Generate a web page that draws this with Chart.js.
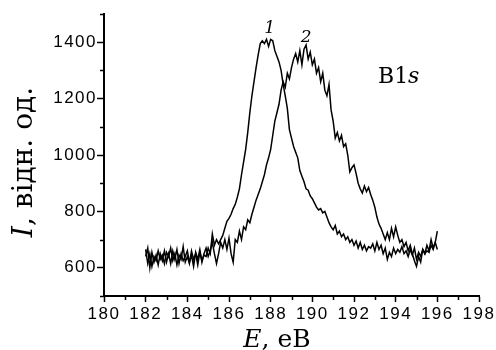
<!DOCTYPE html>
<html>
<head>
<meta charset="utf-8">
<script src="https://cdn.jsdelivr.net/npm/chart.js@4/dist/chart.umd.min.js"></script>
<style>
  html,body{margin:0;padding:0;background:#fff;}
  #wrap{width:496px;height:350px;position:relative;}
</style>
</head>
<body>
<div id="wrap"><canvas id="c" width="496" height="350"></canvas></div>
<script>
// Energy grid (eV): 182.0 ... 196.0, step 0.1
const energyStart = 182.0;
const energyStep = 0.1;
// Curve 1 intensity (arb. units)
const curve1 = [
 665,615,650,605,640,625,660,630,645,615,
 655,640,670,625,650,610,645,630,675,620,
 640,615,660,630,650,610,655,625,645,640,
 670,650,720,680,700,685,700,715,740,765,
 775,790,810,825,850,880,930,975,1020,1080,
 1150,1210,1260,1310,1355,1395,1405,1395,1410,1385,
 1410,1405,1370,1350,1330,1300,1250,1210,1165,1090,
 1060,1030,1010,990,945,925,905,880,875,855,
 845,830,815,805,810,795,800,780,760,745,
 735,750,720,730,710,720,700,710,690,700,
 680,695,670,690,665,680,660,675,670,685,
 660,690,665,680,650,670,630,655,640,670,
 650,665,655,675,650,660,640,665,645,670,
 630,655,640,665,650,660,655,680,665,690,
 730
];
// Curve 2 intensity (arb. units)
const curve2 = [
 640,670,600,655,620,645,610,650,625,660,
 620,650,615,660,630,665,615,650,625,640,
 660,620,645,605,655,630,665,620,650,670,
 640,660,690,650,615,650,690,670,700,665,
 705,650,620,700,690,730,700,745,735,770,
 760,790,815,840,860,880,905,930,965,990,
 1020,1070,1120,1150,1180,1230,1260,1240,1290,1270,
 1310,1340,1360,1330,1370,1320,1375,1390,1340,1365,
 1320,1340,1290,1310,1260,1290,1230,1210,1250,1160,
 1120,1060,1080,1050,1070,1030,1040,1000,940,955,
 965,935,900,880,865,890,870,885,860,840,
 815,780,755,740,720,700,725,700,740,710,
 745,715,690,700,675,690,660,680,650,625,
 605,640,620,665,650,680,660,700,670,690,
 665
];
const xTickLabels = [180,182,184,186,188,190,192,194,196,198];
const yTickLabels = [600,800,1000,1200,1400];
const xMinorTicks = [181,183,185,187,189,191,193,195,197];
const yMinorTicks = [500,700,900,1100,1300,1500];
const curveNames = ['1','2'];

const energies = curve1.map((_, i) => +(energyStart + i * energyStep).toFixed(1));
const toPts = arr => arr.map((v, i) => ({x: energies[i], y: v}));

const tickFont = {family: '"Liberation Sans", Arial, sans-serif', size: 17};

const annot = {
  id: 'annot',
  beforeDraw(chart) { chart.ctx.letterSpacing = '1.5px'; },
  afterDraw(chart) {
    const ctx = chart.ctx;
    const xs = chart.scales.x, ys = chart.scales.y;
    const ca = chart.chartArea;
    ctx.save();
    ctx.letterSpacing = '0px';
    // minor ticks
    ctx.strokeStyle = '#000'; ctx.lineWidth = 1.5;
    ctx.beginPath();
    xMinorTicks.forEach(v => { const px = Math.round(xs.getPixelForValue(v)) + 0.5; ctx.moveTo(px, ca.bottom); ctx.lineTo(px, ca.bottom + 4); });
    yMinorTicks.forEach(v => { const py = Math.round(ys.getPixelForValue(v)) + 0.5; ctx.moveTo(ca.left, py); ctx.lineTo(ca.left - 4, py); });
    ctx.stroke();
    ctx.fillStyle = '#000';
    // curve labels
    ctx.font = 'italic 17px "DejaVu Serif", serif';
    ctx.textAlign = 'center'; ctx.textBaseline = 'middle';
    ctx.fillText(curveNames[0], xs.getPixelForValue(187.95), ys.getPixelForValue(1447));
    ctx.fillText(curveNames[1], xs.getPixelForValue(189.7), ys.getPixelForValue(1417));
    // B1s
    const bx = xs.getPixelForValue(193.15), by = ys.getPixelForValue(1275);
    ctx.textAlign = 'left';
    ctx.font = '22px "DejaVu Serif", serif';
    ctx.fillText('B1', bx, by);
    let w = ctx.measureText('B1').width;
    ctx.font = 'italic 22px "DejaVu Serif", serif';
    ctx.fillText('s', bx + w, by);
    // x title: E, eB
    ctx.textBaseline = 'alphabetic';
    const parts = [['italic 25px "DejaVu Serif", serif','E'],['25px "DejaVu Serif", serif',', eB']];
    let total = 0;
    parts.forEach(p => { ctx.font = p[0]; total += ctx.measureText(p[1]).width; });
    let x0 = 277 - total/2;
    parts.forEach(p => { ctx.font = p[0]; ctx.fillText(p[1], x0, 347); x0 += ctx.measureText(p[1]).width; });
    // y title: I, відн. од.
    ctx.translate(32, 162);
    ctx.rotate(-Math.PI/2);
    const yp = [['italic 28px "DejaVu Serif", serif','I'],['28px "DejaVu Serif", serif',', відн. од.']];
    total = 0;
    yp.forEach(p => { ctx.font = p[0]; total += ctx.measureText(p[1]).width; });
    x0 = -total/2;
    yp.forEach(p => { ctx.font = p[0]; ctx.fillText(p[1], x0, 0); x0 += ctx.measureText(p[1]).width; });
    ctx.restore();
  }
};

new Chart(document.getElementById('c'), {
  type: 'line',
  data: {
    datasets: [
      {label: curveNames[0], data: toPts(curve1), borderColor: '#000', borderWidth: 1.5, pointRadius: 0, tension: 0, fill: false},
      {label: curveNames[1], data: toPts(curve2), borderColor: '#000', borderWidth: 1.5, pointRadius: 0, tension: 0, fill: false}
    ]
  },
  options: {
    responsive: false,
    animation: false,
    devicePixelRatio: 1,
    layout: {padding: {left: 0, right: 17, top: 14, bottom: 0}},
    plugins: {legend: {display: false}, tooltip: {enabled: false}},
    scales: {
      x: {
        type: 'linear', min: 180, max: 198,
        afterFit: s => { s.height = 54; },
        grid: {drawOnChartArea: false, drawTicks: true, tickLength: 6, tickColor: '#000', tickWidth: 1.5},
        border: {display: true, color: '#000', width: 2},
        ticks: {
          stepSize: 2, autoSkip: false, maxRotation: 0, color: '#000', font: tickFont, padding: 2,
          callback: v => xTickLabels.includes(v) ? String(v) : ''
        }
      },
      y: {
        min: 500, max: 1500,
        afterFit: s => { s.width = 104; },
        grid: {drawOnChartArea: false, drawTicks: true, tickLength: 7, tickColor: '#000', tickWidth: 1.5},
        border: {display: true, color: '#000', width: 2},
        ticks: {
          stepSize: 200, autoSkip: false, color: '#000', font: tickFont, padding: 0,
          callback: v => yTickLabels.includes(v) ? String(v) : ''
        },
        afterBuildTicks: s => { s.ticks = yTickLabels.map(v => ({value: v})); }
      }
    }
  },
  plugins: [annot]
});
</script>
</body>
</html>
